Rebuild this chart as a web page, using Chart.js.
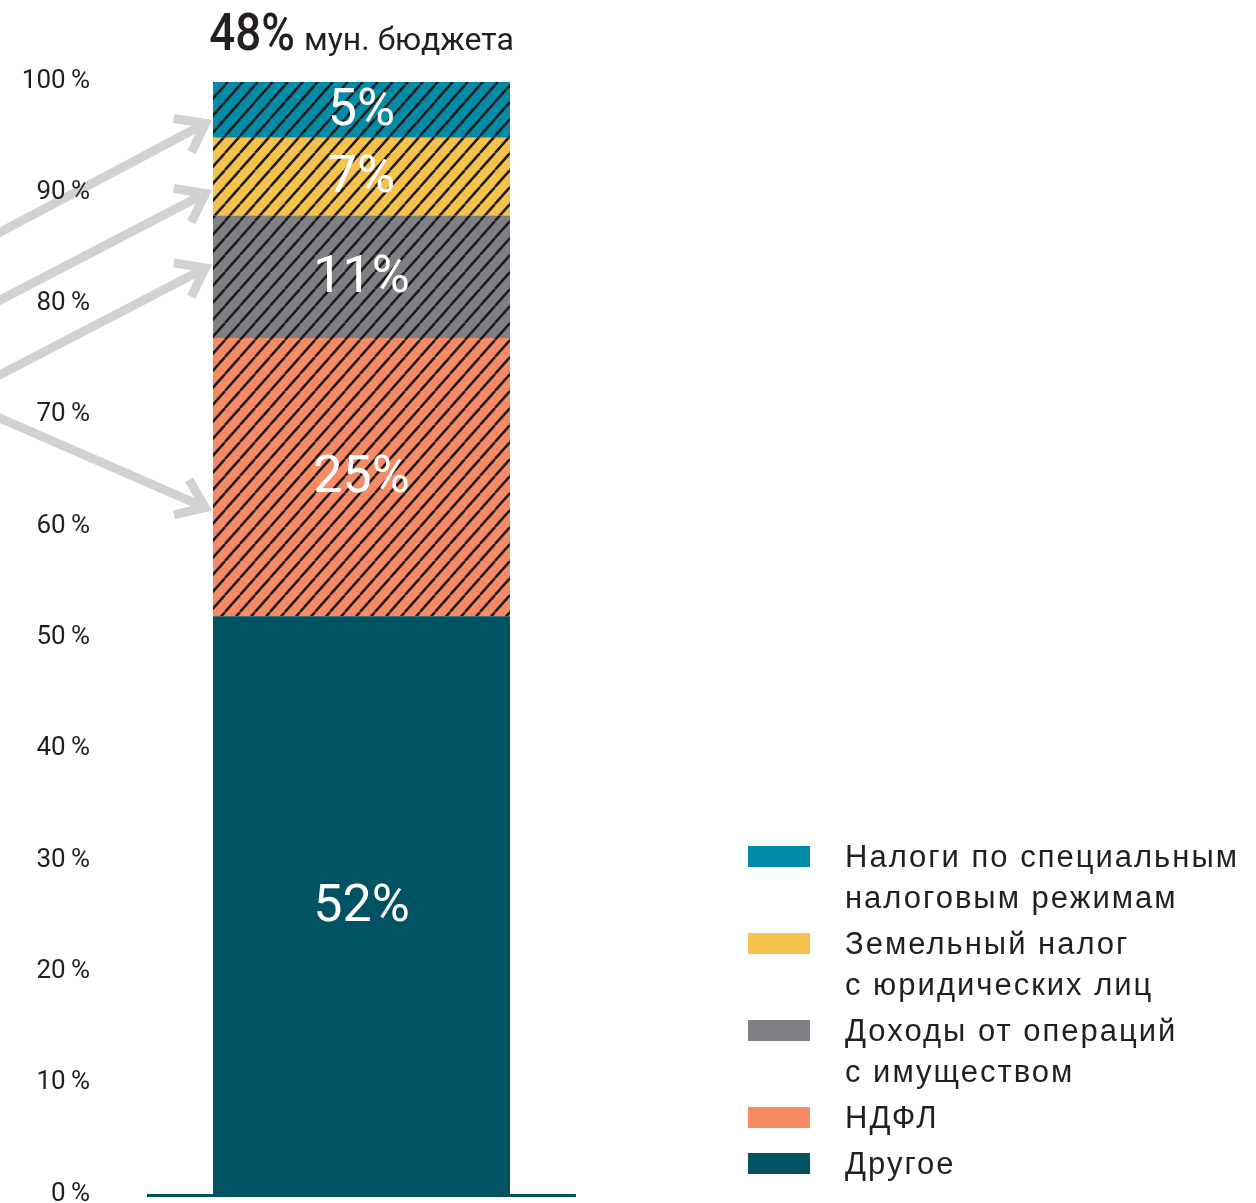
<!DOCTYPE html>
<html><head><meta charset="utf-8">
<script src="https://cdn.jsdelivr.net/npm/chart.js@4.4.0/dist/chart.umd.min.js"></script>
<style>
html,body{margin:0;padding:0;background:#fff;}
#wrap{position:relative;width:1256px;height:1203px;overflow:hidden;}
#c{position:absolute;left:0;top:0;width:1256px;height:1203px;}
#legend{position:absolute;left:748px;top:836px;font-family:"Liberation Sans",Arial,sans-serif;font-size:31px;line-height:41px;color:#231f20;letter-spacing:2px;}
.item{display:flex;align-items:flex-start;margin-bottom:5px;}
.sw{width:62px;height:21px;margin-top:10px;flex:none;}
.tx{margin-left:35px;white-space:nowrap;}
</style></head><body>
<div id="wrap">
<canvas id="c" width="1256" height="1203"></canvas>
<div id="legend"></div>
</div>
<script>
// ---- data ----
const categories = ['Доходы мун. бюджета'];
const seriesNames = ['Другое', 'НДФЛ', 'Доходы от операций с имуществом', 'Земельный налог с юридических лиц', 'Налоги по специальным налоговым режимам'];
const seriesValues = [52, 25, 11, 7, 5];
const seriesColors = ['#015363', '#f68a65', '#7f8084', '#f5c24c', '#008ba6'];
const seriesHatched = [false, true, true, true, true];
const legendLines = [
  ['Другое'],
  ['НДФЛ'],
  ['Доходы от операций', 'с имуществом'],
  ['Земельный налог', 'с юридических лиц'],
  ['Налоги по специальным', 'налоговым режимам']
];
const yTicks = [0, 10, 20, 30, 40, 50, 60, 70, 80, 90, 100];
const titleValue = '48%';
const titleText = 'мун. бюджета';
// arrows (in % units of the y axis): start at left edge, tip at bar
const arrowFrom = [86.5, 80.4, 73.7, 69.8];
const arrowTo = [96.6, 90.3, 83.6, 61.5];

// ---- helpers ----
function hatch(color) {
  const w = 15, h = 17;
  const c = document.createElement('canvas');
  c.width = w; c.height = h;
  const x = c.getContext('2d');
  x.fillStyle = color; x.fillRect(0, 0, w, h);
  x.strokeStyle = '#1e1c1d'; x.lineWidth = 2.5;
  x.beginPath();
  for (let k = -1; k <= 1; k++) { x.moveTo(k * w, h); x.lineTo(k * w + w, 0); }
  x.stroke();
  return x.createPattern(c, 'repeat');
}

const datasets = seriesValues.map((v, i) => ({
  label: seriesNames[i],
  data: [v],
  backgroundColor: seriesHatched[i] ? hatch(seriesColors[i]) : seriesColors[i],
  borderWidth: 0,
  categoryPercentage: 1,
  barPercentage: 0.6956
}));

// legend (top to bottom = reverse of stack)
const leg = document.getElementById('legend');
for (let i = seriesValues.length - 1; i >= 0; i--) {
  const it = document.createElement('div'); it.className = 'item';
  const sw = document.createElement('div'); sw.className = 'sw'; sw.style.background = seriesColors[i];
  const tx = document.createElement('div'); tx.className = 'tx'; tx.innerHTML = legendLines[i].join('<br>');
  it.appendChild(sw); it.appendChild(tx); leg.appendChild(it);
}

const arrowPlugin = {
  id: 'arrows',
  beforeDraw(chart) {
    const ctx = chart.ctx, ys = chart.scales.y;
    const bar = chart.getDatasetMeta(0).data[0];
    const lw = 9, s = 0.64, L = 32;
    const tipX = bar.x - bar.width / 2 - 1;
    ctx.save();
    ctx.strokeStyle = '#d1d2d4'; ctx.lineWidth = lw; ctx.lineJoin = 'miter'; ctx.lineCap = 'butt'; ctx.miterLimit = 10;
    const back = lw / 2 / Math.sin(s);
    for (let i = 0; i < arrowFrom.length; i++) {
      const x0 = 0, y0 = ys.getPixelForValue(arrowFrom[i]);
      const xt = tipX, yt = ys.getPixelForValue(arrowTo[i]);
      const a = Math.atan2(yt - y0, xt - x0);
      const x1 = xt - Math.cos(a) * back, y1 = yt - Math.sin(a) * back;
      const t = Math.tan(a);
      ctx.beginPath();
      ctx.moveTo(x0 - 20, y0 - 20 * t);
      ctx.lineTo(x1 - Math.cos(a) * 3, y1 - Math.sin(a) * 3);
      ctx.stroke();
      ctx.beginPath();
      ctx.moveTo(x1 - L * Math.cos(a - s), y1 - L * Math.sin(a - s));
      ctx.lineTo(x1, y1);
      ctx.lineTo(x1 - L * Math.cos(a + s), y1 - L * Math.sin(a + s));
      ctx.stroke();
    }
    ctx.restore();
  }
};

const labelPlugin = {
  id: 'labels',
  afterDatasetsDraw(chart) {
    const ctx = chart.ctx;
    ctx.save();
    ctx.fillStyle = '#ffffff';
    ctx.textAlign = 'center'; ctx.textBaseline = 'middle';
    chart.data.datasets.forEach((ds, i) => {
      const el = chart.getDatasetMeta(i).data[0];
      const cy = (el.y + el.base) / 2;
      ctx.font = '52px Roboto';
      ctx.fillText(ds.data[0] + '%', el.x, cy + 2);
    });
    // title above the bar
    const bar = chart.getDatasetMeta(0).data[0];
    const by = chart.chartArea.top - 32;
    ctx.fillStyle = '#231f20';
    ctx.textAlign = 'left'; ctx.textBaseline = 'alphabetic';
    const f1 = '500 52px Roboto', f2 = '32px Roboto', sx = 0.88;
    ctx.font = f1;
    const w1 = ctx.measureText(titleValue).width * sx;
    ctx.font = f2;
    const w2 = ctx.measureText(titleText).width;
    const gap = 9;
    let x = bar.x - (w1 + gap + w2) / 2;
    ctx.save();
    ctx.translate(x, by); ctx.scale(sx, 1);
    ctx.font = f1;
    ctx.fillText(titleValue, 0, 0);
    ctx.restore();
    ctx.font = f2;
    ctx.fillText(titleText, x + w1 + gap, by);
    ctx.restore();
  }
};

new Chart(document.getElementById('c'), {
  type: 'bar',
  data: { labels: categories, datasets },
  options: {
    responsive: false,
    maintainAspectRatio: false,
    devicePixelRatio: 1,
    animation: false,
    layout: { padding: { top: 82, right: 681, left: 0, bottom: 0 } },
    plugins: { legend: { display: false }, tooltip: { enabled: false } },
    scales: {
      x: {
        stacked: true,
        grid: { display: false, drawTicks: false },
        ticks: { display: false },
        border: { display: true, color: '#00525f', width: 3 },
        afterFit: s => { s.height = 8; }
      },
      y: {
        stacked: true, min: 0, max: 100,
        afterBuildTicks: s => { s.ticks = yTicks.map(v => ({ value: v })); },
        ticks: {
          callback: v => v + '\u2009%',
          font: { family: 'Roboto', size: 26 },
          color: '#231f20',
          padding: 58,
          labelOffset: -1
        },
        grid: { display: false, drawTicks: false },
        border: { display: false },
        afterFit: s => { s.width = 148; s.paddingTop = 0; s.paddingBottom = 0; }
      }
    }
  },
  plugins: [arrowPlugin, labelPlugin]
});
</script>
</body></html>
